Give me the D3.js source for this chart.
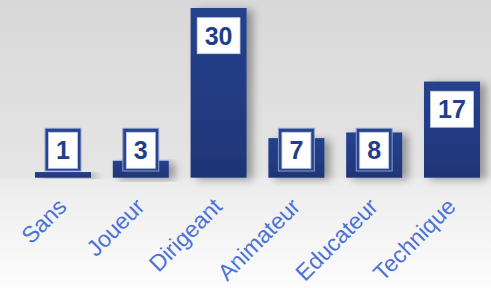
<!DOCTYPE html>
<html>
<head>
<meta charset="utf-8">
<script src="https://cdn.jsdelivr.net/npm/d3@7"></script>
<style>
  html, body { margin: 0; padding: 0; background: #fff; }
  svg { display: block; }
  text { font-family: "Liberation Sans", Arial, sans-serif; }
</style>
</head>
<body>
<svg id="chart" width="491" height="288"></svg>
<script>
const categories = ['Sans', 'Joueur', 'Dirigeant', 'Animateur', 'Educateur', 'Technique'];
const values = [1, 3, 30, 7, 8, 17];

const width = 491, height = 288;
const baseline = 177.7, topY = 8;
const svg = d3.select('#chart');
const defs = svg.append('defs');

// background gradients
const bg = defs.append('linearGradient').attr('id', 'bg').attr('x1', 0).attr('x2', 0).attr('y1', 0).attr('y2', 1);
bg.append('stop').attr('offset', '0%').attr('stop-color', '#d8d8d8');
bg.append('stop').attr('offset', '61%').attr('stop-color', '#e5e5e5');
bg.append('stop').attr('offset', '63%').attr('stop-color', '#ececec');
bg.append('stop').attr('offset', '100%').attr('stop-color', '#fdfdfd');

const barGrad = defs.append('linearGradient').attr('id', 'bar').attr('x1', 0).attr('x2', 0).attr('y1', 0).attr('y2', 1);
barGrad.append('stop').attr('offset', '0%').attr('stop-color', '#25428f');
barGrad.append('stop').attr('offset', '100%').attr('stop-color', '#1f3576');

const shadow = defs.append('filter').attr('id', 'shadow')
    .attr('x', '-20%').attr('y', '-20%').attr('width', '160%').attr('height', '140%');
shadow.append('feGaussianBlur').attr('in', 'SourceAlpha').attr('stdDeviation', 4).attr('result', 'blur');
shadow.append('feOffset').attr('in', 'blur').attr('dx', 6).attr('dy', 2).attr('result', 'off');
shadow.append('feComponentTransfer').attr('in', 'off').attr('result', 'soft')
    .append('feFuncA').attr('type', 'linear').attr('slope', 0.35);
const merge = shadow.append('feMerge');
merge.append('feMergeNode').attr('in', 'soft');
merge.append('feMergeNode').attr('in', 'SourceGraphic');

svg.append('rect').attr('width', width).attr('height', height).attr('fill', 'url(#bg)');

const x = d3.scaleBand()
    .domain(categories)
    .range([24.1, 490.9])
    .paddingInner(0.28)
    .paddingOuter(0.14);

const y = d3.scaleLinear()
    .domain([0, 30])
    .range([baseline, topY]);

const data = categories.map((c, i) => ({cat: c, value: values[i]}));

svg.append('g')
    .selectAll('rect.bar').data(data)
    .join('rect')
    .attr('class', 'bar')
    .attr('x', d => x(d.cat))
    .attr('y', d => y(d.value))
    .attr('width', x.bandwidth())
    .attr('height', d => baseline - y(d.value))
    .attr('fill', 'url(#bar)')
    .attr('filter', 'url(#shadow)');

// value labels
const boxH = 36;
const labels = svg.append('g').selectAll('g.lab').data(data).join('g').attr('class', 'lab');
labels.each(function(d) {
    const g = d3.select(this);
    const cx = x(d.cat) + x.bandwidth() / 2;
    const boxTop = Math.min(y(d.value) + 9.7, baseline - 9.4 - boxH);
    const clamped = boxTop < y(d.value) + 9.7;
    const t = g.append('text')
        .attr('x', cx)
        .attr('y', boxTop + boxH / 2 + 9)
        .attr('text-anchor', 'middle')
        .attr('font-size', 25)
        .attr('font-weight', 'bold')
        .attr('fill', '#213d8c')
        .text(d.value);
    const tw = t.node().getComputedTextLength();
    const bw = tw + 15;
    if (clamped) {
        g.insert('rect', 'text')
            .attr('x', cx - bw / 2 - 3.5)
            .attr('y', boxTop - 4)
            .attr('width', bw + 7)
            .attr('height', baseline - 6.7 - (boxTop - 4))
            .attr('fill', '#274491')
            .attr('stroke', '#8e9cc6')
            .attr('stroke-width', 1);
    }
    g.insert('rect', 'text')
        .attr('x', cx - bw / 2)
        .attr('y', boxTop)
        .attr('width', bw)
        .attr('height', boxH)
        .attr('fill', '#ffffff')
        .attr('stroke', '#c5cde3')
        .attr('stroke-width', 0.8);
});

// category labels
svg.append('g')
    .selectAll('text.cat').data(categories)
    .join('text')
    .attr('class', 'cat')
    .attr('transform', c => `translate(${x(c) + x.bandwidth() / 2 + 5},208) rotate(-45)`)
    .attr('text-anchor', 'end')
    .attr('font-size', 23)
    .attr('fill', '#4b72d7')
    .text(c => c);
</script>
</body>
</html>
